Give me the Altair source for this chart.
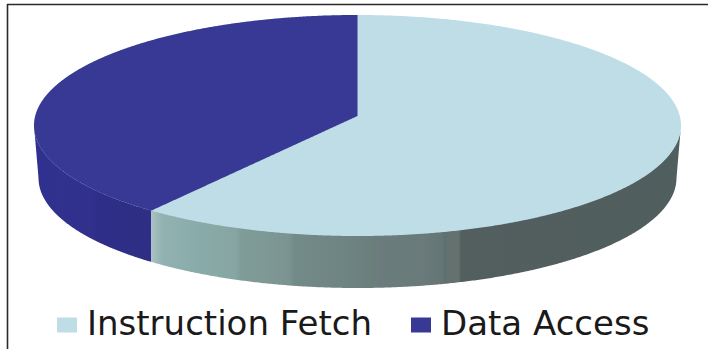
import numpy as np
import pandas as pd
import altair as alt

# Pie shares and legend entries
series = ["Instruction Fetch", "Data Access"]
shares = [61, 39]
colors = ["#bfdde6", "#383995"]

W, H = 708, 349

# Ellipses of the tilted disc: upper face and the narrower rim below it
cx, cy, rx, ry = 357.5, 125.5, 323.5, 110.5
rim_cy, rim_rx, rim_ry = 178.0, 319.0, 110.0
apex_y = 116.0

split_angle = np.deg2rad(360 * shares[0] / sum(shares))
split_x = cx + rx * np.sin(split_angle)
split_y = cy - ry * np.cos(split_angle)


def span(x0, x1, n=260):
    # Denser sampling where the ellipse is steepest
    a0 = np.arccos(np.clip((x0 - cx) / rx, -1, 1))
    a1 = np.arccos(np.clip((x1 - cx) / rx, -1, 1))
    return cx + rx * np.cos(np.linspace(a0, a1, n))


def upper(x):
    return cy - ry * np.sqrt(np.clip(1 - ((x - cx) / rx) ** 2, 0, 1))


def lower(x):
    return cy + ry * np.sqrt(np.clip(1 - ((x - cx) / rx) ** 2, 0, 1))


def rim(x):
    u = (x - cx) / rim_rx
    arc = rim_cy + rim_ry * np.sqrt(np.clip(1 - u ** 2, 0, 1))
    edge = cy + (np.abs(x - cx) - rx) / (rim_rx - rx) * (rim_cy - cy)
    return np.where(np.abs(u) <= 1, arc, edge)


# Top face: the whole ellipse in the first colour, the second sector over it
xs = span(cx - rx, cx + rx, 500)
face_a = pd.DataFrame({"x": xs, "y": upper(xs), "y2": lower(xs), "series": series[0]})
xs = span(cx - rx, cx, 400)
chord = apex_y + (xs - cx) / (split_x - cx) * (split_y - apex_y)
face_b = pd.DataFrame({
    "x": xs,
    "y": upper(xs),
    "y2": np.where(xs < split_x, lower(xs), chord),
    "series": series[1],
})
faces = pd.concat([face_a, face_b], ignore_index=True)

xs = span(cx - rx, split_x, 200)
wall_blue = pd.DataFrame({"x": xs, "y": lower(xs) - 1, "y2": rim(xs)})
xs = span(split_x, cx + rx, 400)
wall_pale = pd.DataFrame({"x": xs, "y": lower(xs) - 1, "y2": rim(xs)})

x_scale = alt.Scale(domain=[0, W], range=[0, W], nice=False, zero=False)
y_scale = alt.Scale(domain=[0, H], range=[0, H], nice=False, zero=False)
X = alt.X("x:Q", scale=x_scale, axis=None)
Y = alt.Y("y:Q", scale=y_scale, axis=None, stack=None)


def flat(offset, color):
    return alt.GradientStop(offset=offset, color=color)


# Banded shading along the rim, light at the sector edge and dark to the right
pale_stops = [
    flat(0.0, "#a8c2c2"), flat(0.02, "#93b2b1"), flat(0.08, "#8aacaa"),
    flat(0.16, "#87a5a2"), flat(0.17, "#7f9c99"), flat(0.26, "#7b9491"),
    flat(0.27, "#738b88"), flat(0.36, "#6e8583"), flat(0.42, "#6a7f7c"),
    flat(0.43, "#6c7c7e"), flat(0.50, "#687b78"), flat(0.51, "#6b7a7c"),
    flat(0.55, "#647674"), flat(0.555, "#5e706e"), flat(0.56, "#64716f"),
    flat(0.58, "#64716f"), flat(0.585, "#525f5e"), flat(1.0, "#505e5d"),
]
blue_stops = [
    flat(0.0, "#30318f"), flat(0.5, "#31318c"), flat(0.55, "#2e2e88"),
    flat(1.0, "#2e2e84"),
]

wall_a = alt.Chart(wall_blue).mark_area(
    color=alt.Gradient(gradient="linear", stops=blue_stops, x1=0, x2=1, y1=0, y2=0)
).encode(x=X, y=Y, y2="y2:Q")
wall_b = alt.Chart(wall_pale).mark_area(
    color=alt.Gradient(gradient="linear", stops=pale_stops, x1=0, x2=1, y1=0, y2=0)
).encode(x=X, y=Y, y2="y2:Q")

top = alt.Chart(faces).mark_area(interpolate="linear").encode(
    x=X,
    y=Y,
    y2="y2:Q",
    color=alt.Color(
        "series:N",
        scale=alt.Scale(domain=series, range=colors),
        sort=series,
        legend=alt.Legend(
            title=None,
            orient="none",
            legendX=50,
            legendY=308,
            direction="horizontal",
            columns=2,
            padding=0,
            symbolType="M-1,-0.75H1V0.75H-1Z",
            symbolSize=400,
            symbolStrokeWidth=0,
            labelFont="DejaVu Sans",
            labelFontSize=34,
            labelColor="#1a1a1a",
            labelOffset=3,
            labelLimit=400,
            columnPadding=32,
            symbolOpacity=1,
        ),
    ),
)

# Frame lines along the top and left edges
frame_left = alt.Chart(pd.DataFrame({"x": [7.5], "y": [4.0], "y2": [H]})).mark_rule(
    color="#2a2a2a", strokeWidth=1.6
).encode(x=X, y=Y, y2="y2:Q")
frame_top = alt.Chart(pd.DataFrame({"x": [7.0], "x2": [W], "y": [4.5]})).mark_rule(
    color="#2a2a2a", strokeWidth=1.6
).encode(x=X, x2="x2:Q", y=Y)

chart = (
    alt.layer(wall_a, wall_b, top, frame_left, frame_top)
    .resolve_scale(color="independent")
    .properties(
        width=W,
        height=H,
        padding=0,
        background="white",
        autosize=alt.AutoSizeParams(type="none"),
    )
    .configure_view(stroke=None)
)

chart.save("out.html", embed_options={"renderer": "svg", "actions": False})
